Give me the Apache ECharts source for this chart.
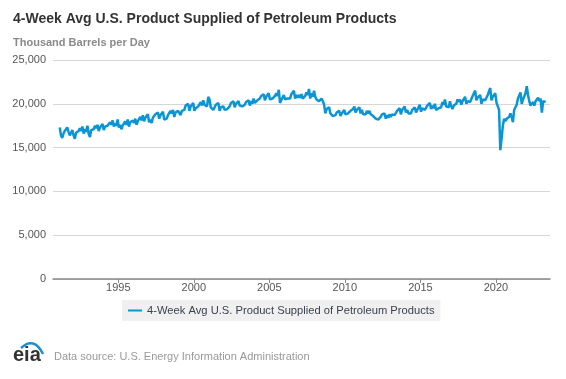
<!DOCTYPE html>
<html>
<head>
<meta charset="utf-8">
<script src="https://cdn.jsdelivr.net/npm/echarts@6/dist/echarts.min.js"></script>
<style>html,body{margin:0;padding:0;background:#fff}#c{width:566px;height:379px}</style>
</head>
<body>
<div id="c"></div>
<script>
// Monthly readings (thousand barrels per day), starting Feb 1991
const startYear = 1991, startMonth = 2;
const supplied = [
  17300,16400,16100,16600,16900,17100,17300,16800,16400,16700,17000,
  16400,16000,16700,16500,16900,17200,16900,17400,16600,17100,16800,17500,
  16600,16200,17000,16800,17100,17500,17200,17600,16900,17300,17100,17700,
  17000,17400,17200,17500,17300,17900,17600,18100,17400,17800,17500,18200,
  17300,17600,17100,17500,17700,18000,17600,18200,17400,17900,17800,18100,
  17800,18300,17600,18000,18200,18500,18100,18700,18000,18400,18200,18800,
  17900,18200,17800,18400,18500,18800,18600,19000,18300,18700,18500,19100,
  18200,18400,18300,18700,18800,19200,18900,19300,18500,19000,18800,19200,
  19000,18700,19200,19400,19300,19800,19600,20000,19200,19700,19500,20100,
  19200,19500,19300,19700,19800,20200,19800,20400,19900,20100,19700,20800,
  20500,19600,19500,19300,19500,19900,19700,20100,19200,19600,19400,19700,
  19300,19500,19400,19600,19700,20100,19900,20300,19600,20000,19800,20300,
  19800,19600,19700,19700,19900,20200,20100,20400,19800,20300,20000,20600,
  20100,20300,20400,20500,20600,20900,20800,21100,20400,20800,20600,21200,
  20500,20700,20600,20800,20900,21200,20900,21600,20100,20400,20500,21000,
  20500,20300,20600,20400,20600,21100,20900,21500,20600,21000,20700,21000,
  20700,21100,20600,20800,20900,21300,21000,21700,20600,21200,20800,21500,
  20800,20500,20400,20300,20200,20600,20300,19900,18900,19400,19200,19600,
  18900,18800,18600,18500,18700,19000,18900,19200,18600,18900,18800,19300,
  18800,18900,18900,19000,19200,19400,19400,19700,19000,19300,19200,19600,
  18900,19300,18800,18900,18800,19200,18900,19200,18800,18900,18600,18800,
  18300,18400,18200,18400,18500,18800,18600,18900,18300,18700,18400,18800,
  18500,18800,18700,18700,18800,19200,19100,19500,18800,19300,19100,19700,
  19000,19300,18900,18800,18900,19300,19200,19600,19000,19300,19200,19900,
  19100,19500,19300,19300,19400,19800,19800,20100,19400,19800,19500,20000,
  19300,19400,19500,19700,19600,20200,19900,20500,19700,19900,19600,20300,
  19700,19400,19800,19600,20000,20500,20200,20500,19900,20300,20100,20800,
  20000,20300,20200,20200,20400,20900,20700,21500,20400,20700,20500,21000,
  20000,20500,20300,20400,20600,21000,20800,21800,20400,20800,20600,21200,
  20100,20200,19300,14700,16000,17500,18300,18000,18300,18400,18500,18900,
  18500,17900,19300,19500,19900,20600,20700,21300,20000,20500,20600,21200,
  22000,21000,20300,19800,19900,20200,19800,20300,20500,20700,20300,20600,
  19000,20300,20100,20200
];
const yTicks = [0, 5000, 10000, 15000, 20000, 25000];
const xTickYears = [1995, 2000, 2005, 2010, 2015, 2020];
const seriesName = '4-Week Avg U.S. Product Supplied of Petroleum Products';

const points = supplied.map((v, i) => {
  const m = startMonth - 1 + i;
  return [startYear + Math.floor(m / 12) + ((m % 12) + 0.5) / 12, v];
});

const chart = echarts.init(document.getElementById('c'), null, {renderer: 'canvas'});
const font = 'Liberation Sans, Arial, sans-serif';
chart.setOption({
  animation: false,
  textStyle: {fontFamily: font},
  title: [
    {text: '4-Week Avg U.S. Product Supplied of Petroleum Products', left: 8, top: 12, padding: [0, 0, 0, 5],
     textStyle: {fontSize: 14, fontWeight: 'bold', color: '#333', fontFamily: font}},
    {text: 'Thousand Barrels per Day', left: 8, top: 37, padding: [0, 0, 0, 5],
     textStyle: {fontSize: 11, fontWeight: 'bold', color: '#8a8a8a', fontFamily: font}}
  ],
  legend: {
    data: [seriesName], left: 122, top: 300,
    backgroundColor: '#f0f0f0', padding: [5, 6, 5, 6],
    itemWidth: 14, itemHeight: 2, icon: 'rect', itemGap: 6,
    textStyle: {fontSize: 11.2, color: '#3a4350', fontFamily: font}
  },
  grid: {left: 53, right: 16, top: 60, bottom: 100, containLabel: false},
  xAxis: {
    type: 'value', min: 1990.68, max: 2023.58,
    axisLine: {lineStyle: {color: '#888', width: 1.5}},
    axisTick: {show: true, length: 4, customValues: xTickYears, lineStyle: {color: '#888'}},
    axisLabel: {customValues: xTickYears, color: '#555', fontSize: 11, margin: 3,
      formatter: v => String(Math.round(v))},
    splitLine: {show: false}
  },
  yAxis: {
    type: 'value', min: 0, max: 25000, interval: 5000,
    axisLine: {show: false}, axisTick: {show: false},
    axisLabel: {color: '#555', fontSize: 11, margin: 7,
      formatter: v => v.toLocaleString('en-US')},
    splitLine: {lineStyle: {color: '#d6d6d6', width: 1}}
  },
  series: [{
    name: seriesName, type: 'line', data: points, showSymbol: false,
    lineStyle: {color: '#0a95d6', width: 2.5}, itemStyle: {color: '#0a95d6'}
  }],
  graphic: [
    {type: 'text', x: 13, y: 345,
     style: {text: 'eia', font: 'bold 20px ' + font, fill: '#333'}},
    {type: 'bezierCurve', shape: {x1: 21, y1: 348, cpx1: 34, cpy1: 336, x2: 43, y2: 354},
     style: {stroke: '#1a8fd2', lineWidth: 2.5, fill: null}},
    {type: 'text', x: 54, y: 351,
     style: {text: 'Data source: U.S. Energy Information Administration', font: '11px ' + font, fill: '#999'}}
  ]
});
</script>
</body>
</html>
